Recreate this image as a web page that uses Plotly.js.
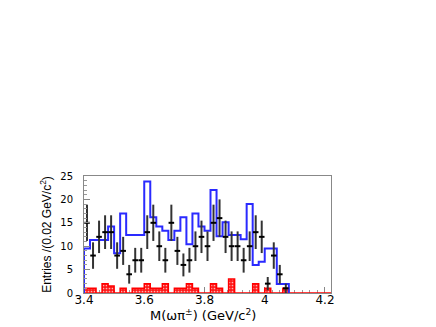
<!DOCTYPE html>
<html>
<head>
<meta charset="utf-8">
<script src="https://cdn.plot.ly/plotly-3.0.1.min.js"></script>
<style>
  html, body { margin: 0; padding: 0; background: #fff; }
  #plot { width: 436px; height: 327px; }
</style>
</head>
<body>
<div id="plot"></div>
<script>
// Spectru M(omega pi+-): puncte date, forma MC (albastru), fond (rosu hasurat).
// Bin-uri de 0.02 GeV/c^2 intre 3.40 si 4.22.

const binCenters = [
  3.41, 3.43, 3.45, 3.47, 3.49, 3.51, 3.53, 3.55, 3.57, 3.59,
  3.61, 3.63, 3.65, 3.67, 3.69, 3.71, 3.73, 3.75, 3.77, 3.79,
  3.81, 3.83, 3.85, 3.87, 3.89, 3.91, 3.93, 3.95, 3.97, 3.99,
  4.01, 4.03, 4.05, 4.07, 4.09, 4.11, 4.13, 4.15, 4.17, 4.19, 4.21,
];
const BIN_WIDTH = 0.02;

// evenimente observate (null = bin fara punct)
const dataCounts = [
  15, 8, 12, 13, 13, 8, 9, 4, 7, 7,
  13, 15, 10, 7, 15, 9, 6, 7, 10, 12,
  10, 15, 16, 12, 10, 10, 7, 10, 13, 12,
  2, 8, 4, 1, null, null, null, null, null, null, null,
];

// forma semnal MC (histograma albastra)
const mcCounts = [
  9.5, 11.3, 11.3, 11.3, 14.2, 8.5, 17.0, 12.4, 12.4, 12.4,
  23.8, 16.2, 14.2, 13.3, 11.3, 13.3, 16.2, 10.4, 17.0, 14.2,
  13.3, 22.0, 12.1, 15.1, 12.4, 12.4, 11.5, 19.0, 6.0, 6.7,
  9.5, 9.5, 1.9, 1.9, 0, 0, 0, 0, 0, 0, 0,
];

// fond estimat (histograma rosie)
const bkgCounts = [
  1, 1, 0, 2, 1.5, 0, 1, 0, 1, 1,
  2, 1, 1, 2, 0, 1, 1, 2, 1, 0,
  0, 2, 1, 0, 3, 0, 0, 0, 2, 0,
  1, 0, 0, 1, 0, 0, 0, 0, 0, 0, 0,
];

const xTickVals = [3.4, 3.6, 3.8, 4.0, 4.2];
const xTickText = ['3.4', '3.6', '3.8', '4', '4.2'];

// contur de histograma (pasi) din centre + valori
function stepOutline(centers, vals, w) {
  const xs = [centers[0] - w / 2];
  const ys = [0];
  centers.forEach((c, i) => { xs.push(c - w / 2); ys.push(vals[i]); });
  xs.push(centers[centers.length - 1] + w / 2);
  ys.push(0);
  return { x: xs, y: ys };
}

// MC doar pana la ultimul bin nenul
let lastMc = mcCounts.length - 1;
while (lastMc > 0 && mcCounts[lastMc] === 0) lastMc--;
const mcStep = stepOutline(binCenters.slice(0, lastMc + 1), mcCounts.slice(0, lastMc + 1), BIN_WIDTH);
const bkgStep = stepOutline(binCenters, bkgCounts, BIN_WIDTH);

const traces = [
  {
    type: 'bar',
    x: binCenters,
    y: bkgCounts,
    width: BIN_WIDTH,
    marker: {
      color: '#ff0000',
      line: { width: 0 },
      pattern: { shape: '.', fgcolor: '#ffb3b3', bgcolor: '#ff1a1a', size: 3, solidity: 0.25, fillmode: 'replace' },
    },
    hoverinfo: 'skip',
  },
  {
    type: 'scatter',
    mode: 'lines',
    x: bkgStep.x,
    y: bkgStep.y,
    line: { shape: 'hv', color: '#ff0000', width: 1.5 },
    hoverinfo: 'skip',
  },
  {
    type: 'scatter',
    mode: 'lines',
    x: mcStep.x,
    y: mcStep.y,
    line: { shape: 'hv', color: '#2a2aff', width: 2 },
    hoverinfo: 'skip',
  },
  {
    type: 'scatter',
    mode: 'markers',
    x: binCenters,
    y: dataCounts,
    marker: { symbol: 'line-ew-open', size: 4, color: '#000', line: { width: 2, color: '#000' } },
    error_y: {
      type: 'data',
      array: dataCounts.map(n => (n == null ? null : Math.sqrt(n))),
      color: '#333',
      thickness: 2,
      width: 0,
    },
    hoverinfo: 'skip',
  },
];

const layout = {
  width: 436,
  height: 327,
  margin: { l: 84, r: 105, t: 176, b: 34 },
  paper_bgcolor: '#ffffff',
  plot_bgcolor: '#ffffff',
  showlegend: false,
  bargap: 0,
  xaxis: {
    range: [3.4, 4.22],
    tickmode: 'array',
    tickvals: xTickVals,
    ticktext: xTickText,
    ticks: 'inside',
    ticklen: 6,
    tickcolor: '#888',
    showline: true,
    linecolor: '#888',
    linewidth: 1,
    mirror: true,
    showgrid: false,
    zeroline: false,
    automargin: false,
    layer: 'below traces',
    tickfont: { family: 'DejaVu Sans', size: 12, color: '#000' },
    ticklabelstandoff: -4,
    minor: { dtick: 0.025, tick0: 3.4, ticks: 'inside', ticklen: 3, tickcolor: '#999', showgrid: false },
  },
  yaxis: {
    range: [0, 25],
    dtick: 5,
    tick0: 0,
    ticks: 'inside',
    ticklen: 6,
    tickcolor: '#888',
    showline: true,
    linecolor: '#888',
    linewidth: 1,
    mirror: true,
    showgrid: false,
    zeroline: false,
    automargin: false,
    tickfont: { family: 'DejaVu Sans', size: 10, color: '#000' },
    ticklabelstandoff: 8,
    minor: { dtick: 1, ticks: 'inside', ticklen: 3, tickcolor: '#999', showgrid: false },
    title: {
      text: 'Entries /(0.02 GeV/c<sup>2</sup>)',
      font: { family: 'Liberation Sans', size: 12, color: '#000' },
      standoff: 6,
    },
  },
  annotations: [
    {
      text: 'M(ωπ<sup>±</sup>) (GeV/c<sup>2</sup>)',
      xref: 'paper', yref: 'paper',
      x: 0.48, y: -0.185,
      xanchor: 'center', yanchor: 'middle',
      showarrow: false,
      font: { family: 'DejaVu Sans', size: 13, color: '#000' },
    },
  ],
};

Plotly.newPlot('plot', traces, layout, { displayModeBar: false, staticPlot: true });
</script>
</body>
</html>
